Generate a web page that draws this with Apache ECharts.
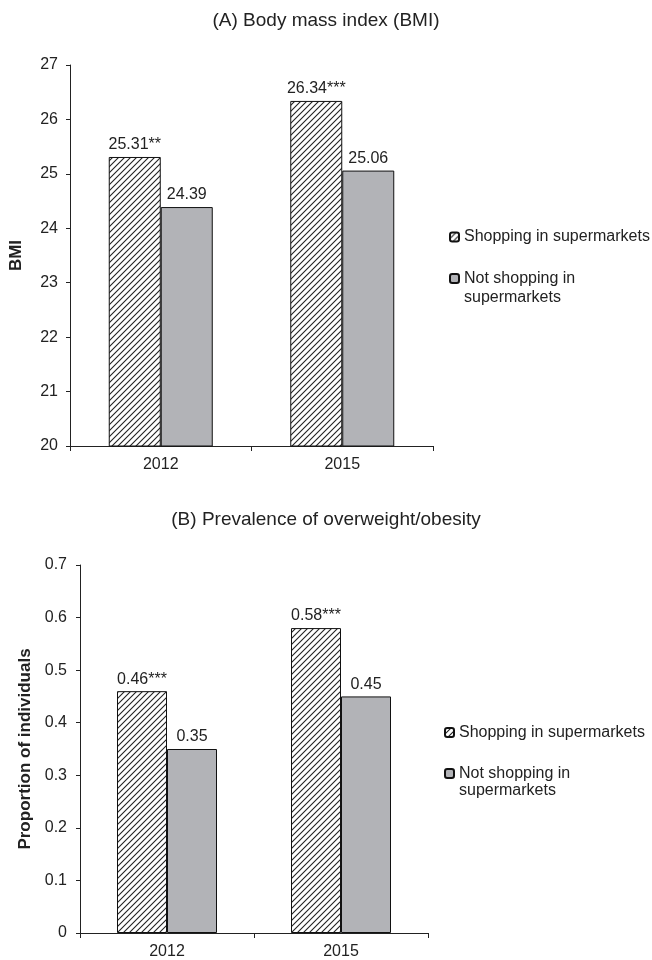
<!DOCTYPE html>
<html>
<head>
<meta charset="utf-8">
<script src="https://cdn.jsdelivr.net/npm/echarts@6/dist/echarts.min.js"></script>
<style>
  html, body { margin: 0; padding: 0; background: #fff; }
  #chart { width: 652px; height: 960px; }
</style>
</head>
<body>
<div id="chart"></div>
<script>
// Survey years shown on both panels
const years = ['2012', '2015'];

// Panel A: mean BMI
const bmiShopping = [25.31, 26.34];
const bmiNotShopping = [24.39, 25.06];
const bmiStars = ['**', '***'];

// Panel B: share of overweight/obese individuals
const owShopping = [0.46, 0.58];
const owNotShopping = [0.35, 0.45];
const owStars = ['***', '***'];

const bmiTicks = { min: 20, max: 27, interval: 1 };
const owTicks = { min: 0, max: 0.7, interval: 0.1 };

const nameShop = 'Shopping in supermarkets';
const nameNot = 'Not shopping in\nsupermarkets';

// Diagonal hatch fill for the supermarket shoppers
function hatchPattern() {
  const c = document.createElement('canvas');
  c.width = 6; c.height = 6;
  const g = c.getContext('2d');
  g.fillStyle = '#ffffff';
  g.fillRect(0, 0, 6, 6);
  g.strokeStyle = '#222';
  g.lineWidth = 1.1;
  g.beginPath();
  g.moveTo(0, 6); g.lineTo(6, 0);
  g.moveTo(-1, 1); g.lineTo(1, -1);
  g.moveTo(5, 7); g.lineTo(7, 5);
  g.stroke();
  return { image: c, repeat: 'repeat' };
}
const hatch = hatchPattern();
const gray = '#b2b3b7';
const ink = '#222';
const font = 'Liberation Sans, Arial, sans-serif';

function xAxis(gridIndex) {
  return {
    type: 'category', gridIndex, data: years,
    axisLine: { lineStyle: { color: ink, width: 1 } },
    axisTick: { show: true, length: 5, lineStyle: { color: ink } },
    axisLabel: { color: ink, fontSize: 16, fontFamily: font, margin: 11 }
  };
}
function yAxis(gridIndex, t, name, gap, margin) {
  return {
    type: 'value', gridIndex, min: t.min, max: t.max, interval: t.interval,
    name, nameLocation: 'middle', nameGap: gap, nameRotate: 90,
    nameTextStyle: { color: ink, fontSize: 17, fontWeight: 'bold', fontFamily: font },
    axisLine: { show: true, lineStyle: { color: ink, width: 1 } },
    axisTick: { show: true, length: 4, lineStyle: { color: ink } },
    axisLabel: { color: ink, fontSize: 16, fontFamily: font, margin },
    splitLine: { show: false }
  };
}
function barSeries(name, data, stars, idx, fill, width) {
  return {
    type: 'bar', name, data, xAxisIndex: idx, yAxisIndex: idx,
    barWidth: width, barGap: '0%',
    itemStyle: { color: fill, borderColor: '#111', borderWidth: 1 },
    label: {
      show: true, position: 'top', distance: 4, color: ink, fontSize: 16, fontFamily: font,
      formatter: p => p.value.toFixed(2) + (stars ? stars[p.dataIndex] : '')
    },
    animation: false
  };
}
// One legend entry; the two-line entry gets a blank first line so that
// its icon sits level with "Not shopping in"
function legend(name, left, top, lineHeight) {
  return {
    data: [name],
    orient: 'vertical', left, top, padding: 0,
    itemWidth: 9, itemHeight: 9, selectedMode: false,
    formatter: n => (n === nameNot ? '\n' + n : n),
    textStyle: { color: ink, fontSize: 16, fontFamily: font, lineHeight }
  };
}

const chart = echarts.init(document.getElementById('chart'), null, { renderer: 'canvas' });
chart.setOption({
  backgroundColor: '#fff',
  animation: false,
  title: [
    { text: '(A) Body mass index (BMI)', left: 'center', top: 6,
      textStyle: { color: ink, fontSize: 19, fontWeight: 'normal', fontFamily: font } },
    { text: '(B) Prevalence of overweight/obesity', left: 'center', top: 505,
      textStyle: { color: ink, fontSize: 19, fontWeight: 'normal', fontFamily: font } }
  ],
  legend: [
    legend(nameShop, 449, 228, 18),
    legend(nameNot, 449, 250, 19),
    legend(nameShop, 444, 724, 17),
    legend(nameNot, 444, 748, 17)
  ],
  grid: [
    { left: 70, right: 219, top: 65, bottom: 514, containLabel: false, outerBoundsMode: 'none' },
    { left: 80, right: 224, top: 565, bottom: 27, containLabel: false, outerBoundsMode: 'none' }
  ],
  xAxis: [xAxis(0), xAxis(1)],
  yAxis: [
    yAxis(0, bmiTicks, 'BMI', 45, 12),
    yAxis(1, owTicks, 'Proportion of individuals', 42, 13)
  ],
  series: [
    barSeries(nameShop, bmiShopping, bmiStars, 0, hatch, 52),
    barSeries(nameNot, bmiNotShopping, null, 0, gray, 52),
    barSeries(nameShop, owShopping, owStars, 1, hatch, 50),
    barSeries(nameNot, owNotShopping, null, 1, gray, 50)
  ]
});
</script>
</body>
</html>
